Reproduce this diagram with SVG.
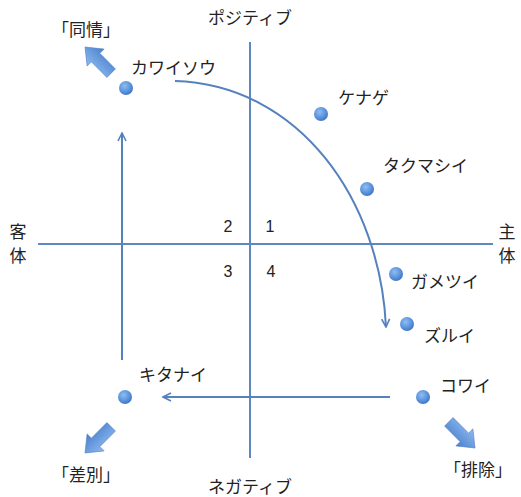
<svg xmlns="http://www.w3.org/2000/svg" width="521" height="497" viewBox="0 0 521 497">
<style>
text{font-family:"Noto Sans CJK JP","Noto Sans",sans-serif;fill:#222;font-size:17px}
.axis{stroke:#5f88bf;stroke-width:2;fill:none}
.conn{stroke:#5581bd;stroke-width:2;fill:none}
.num{font-family:"Liberation Sans","Noto Sans",sans-serif;font-size:16px;text-anchor:middle}
.dot{fill:url(#dg)}
.barrow{fill:url(#ag);stroke:#4d7fc4;stroke-width:0.6}
</style>
<defs>
<radialGradient id="dg" cx="0.4" cy="0.35" r="0.7">
<stop offset="0" stop-color="#8ebdf2"/>
<stop offset="0.6" stop-color="#5b93dc"/>
<stop offset="1" stop-color="#3e71bf"/>
</radialGradient>
<linearGradient id="ag" x1="0" y1="0" x2="0" y2="1">
<stop offset="0" stop-color="#8dbaf0"/>
<stop offset="1" stop-color="#4a80cc"/>
</linearGradient>
<marker id="ah" viewBox="0 0 10 10" refX="9" refY="5" markerWidth="5" markerHeight="5" orient="auto" markerUnits="strokeWidth">
<path d="M1,1 L9,5 L1,9" fill="none" stroke="#5581bd" stroke-width="1.6"/>
</marker>
<path id="ba" d="M0,0 L-15,-12 L-15,-6 L-37,-6 L-37,6 L-15,6 L-15,12 Z"/>
</defs>

<g id="axes">
<line class="axis" x1="38" y1="244" x2="493" y2="244"/>
<line class="axis" x1="250" y1="42" x2="250" y2="458"/>
</g>
<g id="axis-labels">
<text x="250" y="24" text-anchor="middle">ポジティブ</text>
<text x="250" y="493" text-anchor="middle">ネガティブ</text>
<text x="18" y="238" text-anchor="middle">客</text>
<text x="18" y="262" text-anchor="middle">体</text>
<text x="507" y="238" text-anchor="middle">主</text>
<text x="507" y="262" text-anchor="middle">体</text>
</g>
<g id="quadrants">
<text class="num" x="228" y="232">2</text>
<text class="num" x="270" y="232">1</text>
<text class="num" x="228" y="277">3</text>
<text class="num" x="271" y="277">4</text>
</g>

<g id="connectors">
<path class="conn" d="M175,81 C300,85 380,200 386,327" marker-end="url(#ah)"/>
<line class="conn" x1="122" y1="360" x2="122" y2="133" marker-end="url(#ah)"/>
<line class="conn" x1="390" y1="397" x2="163" y2="397" marker-end="url(#ah)"/>
</g>

<g id="n-kawaisou"><circle class="dot" cx="126" cy="88" r="7"/><text x="131" y="74">カワイソウ</text></g>
<g id="n-kenage"><circle class="dot" cx="321" cy="114" r="7"/><text x="338" y="104">ケナゲ</text></g>
<g id="n-takumashii"><circle class="dot" cx="367" cy="189" r="7"/><text x="383" y="172">タクマシイ</text></g>
<g id="n-gametsui"><circle class="dot" cx="396" cy="274" r="7"/><text x="411" y="288">ガメツイ</text></g>
<g id="n-zurui"><circle class="dot" cx="407" cy="324" r="7"/><text x="424" y="342">ズルイ</text></g>
<g id="n-kowai"><circle class="dot" cx="423" cy="397" r="7"/><text x="440" y="392">コワイ</text></g>
<g id="n-kitanai"><circle class="dot" cx="125" cy="397" r="7"/><text x="139" y="381">キタナイ</text></g>

<g id="n-doujou">
<use href="#ba" class="barrow" transform="translate(85,47) rotate(-135)"/>
<text x="52" y="36">「同情」</text>
</g>
<g id="n-sabetsu">
<use href="#ba" class="barrow" transform="translate(85,453) rotate(135)"/>
<text x="52" y="481">「差別」</text>
</g>
<g id="n-haijo">
<use href="#ba" class="barrow" transform="translate(475,448) rotate(45)"/>
<text x="444" y="476">「排除」</text>
</g>
</svg>
